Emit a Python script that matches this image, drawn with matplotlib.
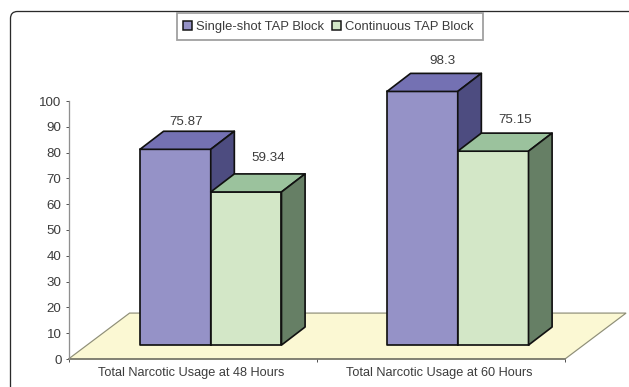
import matplotlib
matplotlib.use('Agg')
import matplotlib.pyplot as plt
from matplotlib.patches import FancyBboxPatch, Patch, Polygon, Rectangle

categories = ['Total Narcotic Usage at 48 Hours', 'Total Narcotic Usage at 60 Hours']
single_shot = [75.87, 98.3]
continuous = [59.34, 75.15]
y_ticks = list(range(0, 101, 10))

plt.rcParams['font.family'] = ['Liberation Sans', 'DejaVu Sans']

W, H = 629, 387
PX = 0.72  # one pixel in points at dpi 100

# 3d look: depth offsets in x axis units / y axis units
FLOOR_DX, FLOOR_DY = 0.246, 17.8
BAR_DX, BAR_DY = 0.095, 7.0
BAR_BASE = 5.4
BAR_W = 0.285
GROUP_LEFT = [0.288, 1.283]

PURPLE = ('#9592C7', '#7471B3', '#4D4C80')
GREEN = ('#D3E7C7', '#9BC29D', '#667F65')
TEXT = '#3c3c3c'


def draw_bar(ax, left, value, colors):
    front, top, side = colors
    right = left + BAR_W
    y0, y1 = BAR_BASE, BAR_BASE + value
    faces = [
        ([(left, y0), (right, y0), (right, y1), (left, y1)], front),
        ([(left, y1), (right, y1), (right + BAR_DX, y1 + BAR_DY), (left + BAR_DX, y1 + BAR_DY)], top),
        ([(right, y0), (right + BAR_DX, y0 + BAR_DY), (right + BAR_DX, y1 + BAR_DY), (right, y1)], side),
    ]
    for pts, col in faces:
        ax.add_patch(Polygon(pts, closed=True, facecolor=col, edgecolor='#111111',
                             linewidth=1.7 * PX, joinstyle='round', clip_on=False, zorder=3))


fig = plt.figure(figsize=(W / 100, H / 100), dpi=100)
fig.patch.set_facecolor('white')

# rounded outer frame, runs off the right and bottom edges
frame = FancyBboxPatch((10.5, -30), 660, H - 11.5 + 30, boxstyle='round,pad=0,rounding_size=7',
                       transform=None, facecolor='white', edgecolor='#2a2a2a', linewidth=1.3 * PX,
                       zorder=-1)
fig.add_artist(frame)

ax = fig.add_axes([68.5 / W, (H - 359) / H, 496.5 / W, 258 / H])
ax.set_xlim(0, 2)
ax.set_ylim(0, 100)
ax.patch.set_alpha(0)
for name in ['top', 'right']:
    ax.spines[name].set_visible(False)
ax.spines['left'].set_color('#8f8f8f')
ax.spines['left'].set_linewidth(1.3 * PX)
ax.spines['bottom'].set_visible(False)

# floor
ax.add_patch(Polygon([(0, 0), (2, 0), (2 + FLOOR_DX, FLOOR_DY), (FLOOR_DX, FLOOR_DY)], closed=True,
                     facecolor='#FBF8D3', edgecolor='#8f8f78', linewidth=1.2 * PX,
                     clip_on=False, zorder=1))
ax.plot([0, 2], [0, 0], color='#77776a', linewidth=1.6 * PX, clip_on=False, zorder=2)

ax.set_yticks(y_ticks)
ax.tick_params(axis='y', length=3.5 * PX, width=1.0 * PX, color='#555555', labelsize=9.6,
               labelcolor=TEXT, pad=2.5)
ax.set_xticks([0, 1, 2])
ax.set_xticklabels([])
ax.tick_params(axis='x', length=3 * PX, width=1.0 * PX, color='#555555')
ax.set_xticks([0.495, 1.495], labels=categories, minor=True)
ax.tick_params(axis='x', which='minor', length=0, labelsize=9.2, labelcolor=TEXT, pad=6)

label_offsets = [[(11, 27), (22, 34)], [(20, 30), (22, 31)]]
for i, left in enumerate(GROUP_LEFT):
    draw_bar(ax, left, single_shot[i], PURPLE)
    draw_bar(ax, left + BAR_W, continuous[i], GREEN)
    for j, val in enumerate([single_shot[i], continuous[i]]):
        dx, dy = label_offsets[i][j]
        ax.annotate(str(val), xy=(left + BAR_W * (j + 0.5), BAR_BASE + val), xytext=(dx * PX, dy * PX),
                    textcoords='offset points', ha='center', va='center', fontsize=9.6,
                    color=TEXT, annotation_clip=False, zorder=4)

# legend box is drawn apart so its padding can be tighter at the sides
fig.add_artist(Rectangle((177, H - 40), 306, 27, transform=None, facecolor='white',
                         edgecolor='#a0a0a0', linewidth=1.8 * PX, zorder=4))
handles = [Patch(facecolor=PURPLE[0], edgecolor='#111111', linewidth=1.5 * PX, label='Single-shot TAP Block'),
           Patch(facecolor=GREEN[0], edgecolor='#111111', linewidth=1.5 * PX, label='Continuous TAP Block')]
leg = fig.legend(handles=handles, ncol=2, loc='center', bbox_to_anchor=(328.6 / W, 1 - 27.1 / H),
                 fontsize=9.4, frameon=False, handlelength=0.65, handleheight=0.65, handletextpad=0.35,
                 columnspacing=0.6, borderpad=0, borderaxespad=0)
for t in leg.get_texts():
    t.set_color(TEXT)

fig.savefig('out.png', dpi=100)
